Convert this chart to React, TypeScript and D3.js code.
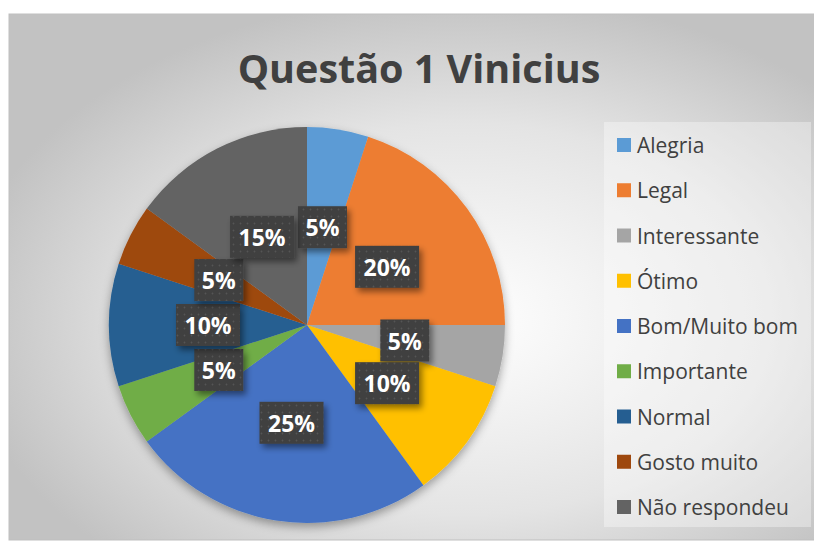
import React, { useEffect, useRef } from "react";
import * as d3 from "d3";

const categories = [
  "Alegria",
  "Legal",
  "Interessante",
  "Ótimo",
  "Bom/Muito bom",
  "Importante",
  "Normal",
  "Gosto muito",
  "Não respondeu",
];
const values = [5, 20, 5, 10, 25, 5, 10, 5, 15];
const colors = ["#5B9BD5", "#ED7D31", "#A5A5A5", "#FFC000", "#4472C4", "#70AD47", "#255E91", "#9E480E", "#636363"];
const title = "Questão 1 Vinicius";

const App = () => {
  const ref = useRef<SVGSVGElement>(null);

  useEffect(() => {
    const width = 814;
    const height = 545;
    const cx = 307;
    const cy = 325;
    const radius = 198;

    const svg = d3.select(ref.current).attr("width", width).attr("height", height);
    svg.selectAll("*").remove();

    const defs = svg.append("defs");
    const grad = defs.append("radialGradient")
      .attr("id", "bg")
      .attr("cx", "56%")
      .attr("cy", "58%")
      .attr("r", "62%");
    grad.append("stop").attr("offset", "0%").attr("stop-color", "#ffffff");
    grad.append("stop").attr("offset", "60%").attr("stop-color", "#e4e4e4");
    grad.append("stop").attr("offset", "100%").attr("stop-color", "#c2c2c2");

    const pieShadow = defs.append("filter").attr("id", "pieShadow")
      .attr("x", "-20%").attr("y", "-20%").attr("width", "140%").attr("height", "140%");
    pieShadow.append("feDropShadow")
      .attr("dx", 0).attr("dy", 4).attr("stdDeviation", 5)
      .attr("flood-color", "#000").attr("flood-opacity", 0.35);

    const boxShadow = defs.append("filter").attr("id", "boxShadow")
      .attr("x", "-30%").attr("y", "-30%").attr("width", "170%").attr("height", "170%");
    boxShadow.append("feDropShadow")
      .attr("dx", 3).attr("dy", 4).attr("stdDeviation", 3)
      .attr("flood-color", "#000").attr("flood-opacity", 0.45);

    const pat = defs.append("pattern").attr("id", "dots")
      .attr("width", 7).attr("height", 7).attr("patternUnits", "userSpaceOnUse");
    pat.append("rect").attr("width", 7).attr("height", 7).attr("fill", "#3f3f3f");
    pat.append("circle").attr("cx", 3.5).attr("cy", 3.5).attr("r", 0.9).attr("fill", "#555555");

    // фон
    svg.append("rect")
      .attr("x", 9).attr("y", 14).attr("width", 812).attr("height", 526)
      .attr("fill", "url(#bg)")
      .attr("stroke", "#bfbfbf").attr("stroke-width", 1);

    svg.append("text")
      .attr("x", 419).attr("y", 83)
      .attr("text-anchor", "middle")
      .attr("font-family", "'Open Sans', sans-serif")
      .attr("font-weight", "bold")
      .attr("font-size", 39.5)
      .attr("fill", "#404040")
      .text(title);

    // пирог
    const pie = d3.pie<number>().sort(null).value((d) => d);
    const arcs = pie(values);
    const arc = d3.arc<d3.PieArcDatum<number>>().innerRadius(0).outerRadius(radius);

    const g = svg.append("g").attr("transform", `translate(${cx},${cy})`);
    g.append("g").attr("filter", "url(#pieShadow)")
      .selectAll("path")
      .data(arcs)
      .join("path")
      .attr("d", arc)
      .attr("fill", (_, i) => colors[i]);

    // подписи
    const labels = g.append("g");
    arcs.forEach((a) => {
      const [x, y] = arc.centroid(a);
      const txt = `${a.data}%`;
      const w = txt.length === 2 ? 49 : 64;
      const h = 42;
      labels.append("rect")
        .attr("x", x - w / 2).attr("y", y - h / 2)
        .attr("width", w).attr("height", h)
        .attr("fill", "url(#dots)")
        .attr("filter", "url(#boxShadow)");
      labels.append("text")
        .attr("x", x).attr("y", y)
        .attr("text-anchor", "middle")
        .attr("dominant-baseline", "central")
        .attr("font-family", "'Open Sans', sans-serif")
        .attr("font-weight", "bold")
        .attr("font-size", 23)
        .attr("fill", "#ffffff")
        .text(txt);
    });

    // легенда
    svg.append("rect")
      .attr("x", 604).attr("y", 122).attr("width", 207).attr("height", 405)
      .attr("fill", "#ffffff").attr("fill-opacity", 0.35);

    const ly = d3.scalePoint<string>().domain(categories).range([145, 507]);
    const leg = svg.append("g");
    categories.forEach((c, i) => {
      const y = ly(c)!;
      leg.append("rect")
        .attr("x", 617).attr("y", y - 7).attr("width", 14).attr("height", 14)
        .attr("fill", colors[i]);
      leg.append("text")
        .attr("x", 637).attr("y", y)
        .attr("dominant-baseline", "central")
        .attr("font-family", "'Open Sans', sans-serif")
        .attr("font-size", 21)
        .attr("fill", "#404040")
        .text(c);
    });
  }, []);

  return (
    <div style={{ position: "absolute", left: 0, top: 0 }}>
      <svg ref={ref} style={{ display: "block" }}></svg>
    </div>
  );
};

export default App;
